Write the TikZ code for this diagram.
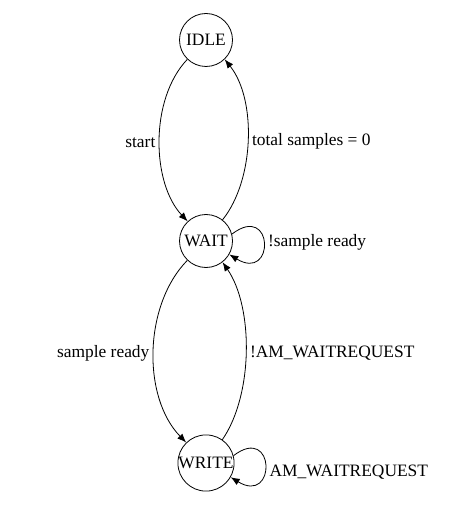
\documentclass[tikz,border=0pt]{standalone}
\usepackage{fontspec}
\setmainfont{Liberation Serif}
\usetikzlibrary{arrows.meta}
\begin{document}
\begin{tikzpicture}[x=1bp,y=-1bp,
  state/.style={circle,draw,line width=0.8bp,minimum size=53bp,inner sep=0pt,font=\fontsize{17.4bp}{20bp}\selectfont},
  edge/.style={draw,line width=0.8bp,-{Latex[length=9bp,width=7bp]}},
  lbl/.style={font=\fontsize{17.4bp}{20bp}\selectfont,inner sep=4bp}]
\useasboundingbox (0,0) rectangle (474,509);
\node[state] (idle) at (206,40) {IDLE};
\node[state] (wait) at (206,241) {WAIT};
\node[state] (write) at (206,463) {WRITE};
% IDLE -> WAIT
\draw[edge] (idle.226) .. controls +(-38,40) and +(-36,-38) .. node[lbl,anchor=east,pos=0.5,yshift=-2bp]{start} (wait.133);
% WAIT -> IDLE
\draw[edge] (wait.52) .. controls +(32,-40) and +(32,40) .. node[lbl,anchor=west,pos=0.5,yshift=-2bp]{total samples = 0} (idle.314);
% WAIT self loop
\draw[edge] (wait.15) .. controls +(42,-32) and +(46,28) .. node[lbl,anchor=west,pos=0.5]{!sample ready} (wait.-30);
% WAIT -> WRITE
\draw[edge] (wait.226) .. controls +(-44,45) and +(-44,-45) .. node[lbl,anchor=east,pos=0.5,yshift=-2bp]{sample ready} (write.134);
% WRITE -> WAIT
\draw[edge] (write.55) .. controls +(31,-45) and +(31,45) .. node[lbl,anchor=west,pos=0.5,yshift=-2bp]{!AM\_WAITREQUEST} (wait.-52);
% WRITE self loop
\draw[edge] (write.15) .. controls +(42,-32) and +(46,28) .. node[lbl,anchor=west,pos=0.5,yshift=-7bp]{AM\_WAITREQUEST} (write.-30);
\end{tikzpicture}
\end{document}
